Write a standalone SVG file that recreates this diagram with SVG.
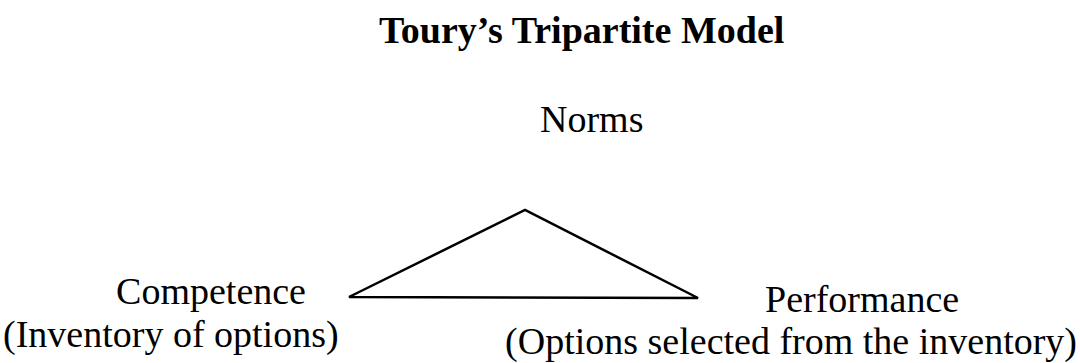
<svg xmlns="http://www.w3.org/2000/svg" width="1080" height="363" viewBox="0 0 1080 363">
<style>
text{font-family:"Liberation Serif","Times New Roman",serif;fill:#000;font-size:38px}
.title{font-weight:bold}
.edge{fill:none;stroke:#000;stroke-width:2.5;stroke-linejoin:miter}
</style>
<rect width="1080" height="363" fill="#fff"/>
<text class="title" x="379" y="43">Toury’s Tripartite Model</text>
<g id="norms"><text x="540" y="132">Norms</text></g>
<g id="competence">
<text x="306" y="304" text-anchor="end">Competence</text>
<text x="3" y="347">(Inventory of options)</text>
</g>
<g id="performance">
<text x="765" y="312">Performance</text>
<text x="1077" y="354" text-anchor="end">(Options selected from the inventory)</text>
</g>
<g id="connectors">
<path class="edge" d="M349,297 L525,210 L698,298 Z"/>
</g>
</svg>
